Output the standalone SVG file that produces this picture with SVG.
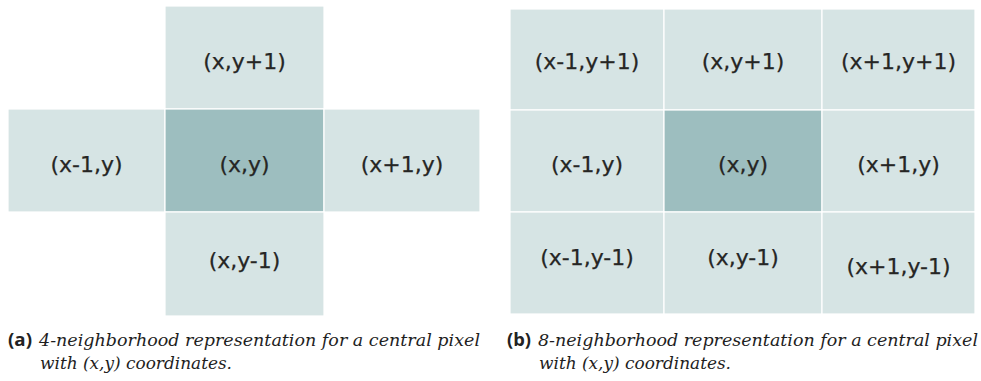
<svg xmlns="http://www.w3.org/2000/svg" width="981" height="381" viewBox="0 0 981 381">
<style>
.c{fill:#d6e4e4;stroke:#ffffff;stroke-width:1.2}
.d{fill:#9dbebf;stroke:#ffffff;stroke-width:1.2}
.t{font-family:"DejaVu Sans",sans-serif;font-size:22px;fill:#262624;stroke:#262624;stroke-width:0.25;text-anchor:middle}
.lab{font-family:"Open Sans","Liberation Sans",sans-serif;font-weight:bold;font-size:17px;fill:#222}
.cap{font-family:"DejaVu Serif","Liberation Serif",serif;font-style:italic;font-size:17.5px;fill:#1e1e1e}
</style>
<rect width="981" height="381" fill="#ffffff"/>
<g id="grid4">
<g id="a-top"><rect class="c" x="165" y="6" width="159" height="103"/><text class="t" x="244.5" y="69">(x,y+1)</text></g>
<g id="a-left"><rect class="c" x="8" y="109" width="157" height="103"/><text class="t" x="86.5" y="172">(x-1,y)</text></g>
<g id="a-center"><rect class="d" x="165" y="109" width="159" height="103"/><text class="t" x="244.5" y="172">(x,y)</text></g>
<g id="a-right"><rect class="c" x="324" y="109" width="156" height="103"/><text class="t" x="402" y="172">(x+1,y)</text></g>
<g id="a-bottom"><rect class="c" x="165" y="212" width="159" height="104"/><text class="t" x="244.5" y="268">(x,y-1)</text></g>
</g>
<g id="grid8">
<g id="b-tl"><rect class="c" x="510" y="9" width="154" height="101"/><text class="t" x="587" y="69">(x-1,y+1)</text></g>
<g id="b-tc"><rect class="c" x="664" y="9" width="158" height="101"/><text class="t" x="743" y="69">(x,y+1)</text></g>
<g id="b-tr"><rect class="c" x="822" y="9" width="153" height="101"/><text class="t" x="898.5" y="69">(x+1,y+1)</text></g>
<g id="b-ml"><rect class="c" x="510" y="110" width="154" height="102"/><text class="t" x="587" y="172">(x-1,y)</text></g>
<g id="b-mc"><rect class="d" x="664" y="110" width="158" height="102"/><text class="t" x="743" y="172">(x,y)</text></g>
<g id="b-mr"><rect class="c" x="822" y="110" width="153" height="102"/><text class="t" x="898.5" y="172">(x+1,y)</text></g>
<g id="b-bl"><rect class="c" x="510" y="212" width="154" height="102"/><text class="t" x="587" y="265">(x-1,y-1)</text></g>
<g id="b-bc"><rect class="c" x="664" y="212" width="158" height="102"/><text class="t" x="743" y="265">(x,y-1)</text></g>
<g id="b-br"><rect class="c" x="822" y="212" width="153" height="102"/><text class="t" x="898.5" y="274">(x+1,y-1)</text></g>
</g>
<g id="captions">
<text class="lab" x="8" y="346" textLength="24" lengthAdjust="spacingAndGlyphs">(a)</text>
<text class="cap" x="39" y="346" textLength="441" lengthAdjust="spacing">4-neighborhood representation for a central pixel</text>
<text class="cap" x="40" y="369" textLength="192" lengthAdjust="spacingAndGlyphs">with (x,y) coordinates.</text>
<text class="lab" x="507" y="346" textLength="24" lengthAdjust="spacingAndGlyphs">(b)</text>
<text class="cap" x="538" y="346" textLength="440" lengthAdjust="spacing">8-neighborhood representation for a central pixel</text>
<text class="cap" x="539" y="369" textLength="192" lengthAdjust="spacingAndGlyphs">with (x,y) coordinates.</text>
</g>
</svg>
